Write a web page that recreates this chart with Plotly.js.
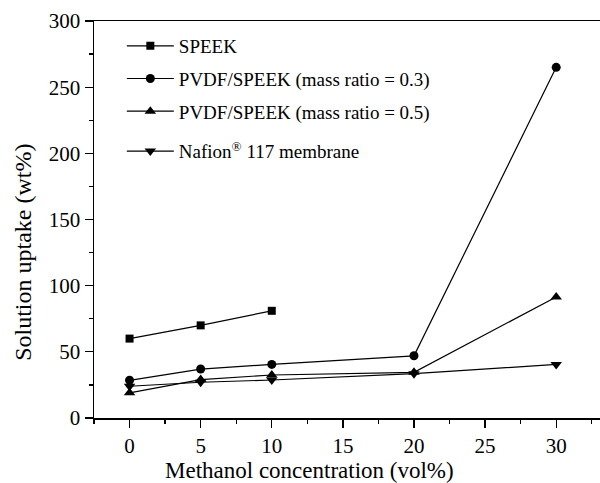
<!DOCTYPE html>
<html>
<head>
<meta charset="utf-8">
<script src="https://cdn.plot.ly/plotly-3.0.1.min.js"></script>
<style>html,body{margin:0;padding:0;background:#fff;}#chart{width:600px;height:483px;}</style>
</head>
<body>
<div id="chart"></div>
<script>
const xSpeek = [0, 5, 10];
const ySpeek = [60, 70, 81];
const xBlend = [0, 5, 10, 20, 30];
const yBlend03 = [28.5, 37, 40.5, 47, 265];
const yBlend05 = [19, 29, 32.5, 34.5, 91.5];
const yNafion = [24, 27, 28.7, 33.5, 40.5];
const names = ["SPEEK", "PVDF/SPEEK (mass ratio = 0.3)", "PVDF/SPEEK (mass ratio = 0.5)", "Nafion<sup>®</sup> 117 membrane"];
const xTitle = "Methanol concentration (vol%)";
const yTitle = "Solution uptake (wt%)";

const font = "Liberation Serif";
function tr(x, y, name, sym, size, leg, g) {
  return {
    x: x, y: y, name: name, type: "scatter", mode: "lines+markers",
    legend: leg, legendgroup: g,
    line: {color: "#000", width: 1.2},
    marker: {symbol: sym, size: size, color: "#000"},
    cliponaxis: false
  };
}
const data = [
  tr(xSpeek, ySpeek, names[0], "square", 8, "legend", "a"),
  tr(xBlend, yBlend03, names[1], "circle", 9, "legend", "b"),
  tr(xBlend, yBlend05, names[2], "triangle-up", 10, "legend", "c"),
  tr(xBlend, yNafion, names[3], "triangle-down", 10, "legend2", "d")
];
const legFont = {family: font, size: 19, color: "#000"};
const layout = {
  width: 600, height: 483,
  margin: {l: 94, r: 0, t: 21, b: 65},
  paper_bgcolor: "#fff", plot_bgcolor: "#fff",
  font: {family: font, color: "#000", size: 20},
  showlegend: true,
  legend: {x: 0.055, y: 0.985, xanchor: "left", yanchor: "top", bgcolor: "rgba(0,0,0,0)",
    font: legFont, traceorder: "grouped", tracegroupgap: 5, itemwidth: 47},
  legend2: {x: 0.055, y: 0.672, xanchor: "left", yanchor: "middle", bgcolor: "rgba(0,0,0,0)",
    font: legFont, itemwidth: 47},
  xaxis: {
    range: [-2.5, 33.08], tickvals: [0, 5, 10, 15, 20, 25, 30],
    ticks: "outside", ticklen: 8, tickwidth: 1.3, tickcolor: "#000",
    minor: {dtick: 2.5, tick0: 0, ticks: "outside", ticklen: 4, tickwidth: 1.3, tickcolor: "#000", showgrid: false},
    showline: true, linecolor: "#000", linewidth: 1.5, mirror: true,
    showgrid: false, zeroline: false,
    tickfont: {family: font, size: 21, color: "#000"}
  },
  yaxis: {
    range: [0, 300], tickvals: [0, 50, 100, 150, 200, 250, 300],
    ticks: "outside", ticklen: 8, tickwidth: 1.3, tickcolor: "#000",
    minor: {dtick: 25, tick0: 0, ticks: "outside", ticklen: 4, tickwidth: 1.3, tickcolor: "#000", showgrid: false},
    showline: true, linecolor: "#000", linewidth: 1.5,
    showgrid: false, zeroline: false,
    tickfont: {family: font, size: 21, color: "#000"}
  },
  annotations: [
    {text: xTitle, xref: "paper", yref: "paper", x: 0.425, y: -0.131, xanchor: "center", yanchor: "middle",
     showarrow: false, font: {family: font, size: 23, color: "#000"}},
    {text: yTitle, xref: "paper", yref: "paper", x: -0.1403, y: 0.416, xanchor: "center", yanchor: "middle",
     textangle: -90, showarrow: false, font: {family: font, size: 24, color: "#000"}}
  ]
};
Plotly.newPlot("chart", data, layout, {staticPlot: true, displayModeBar: false});
</script>
</body>
</html>
